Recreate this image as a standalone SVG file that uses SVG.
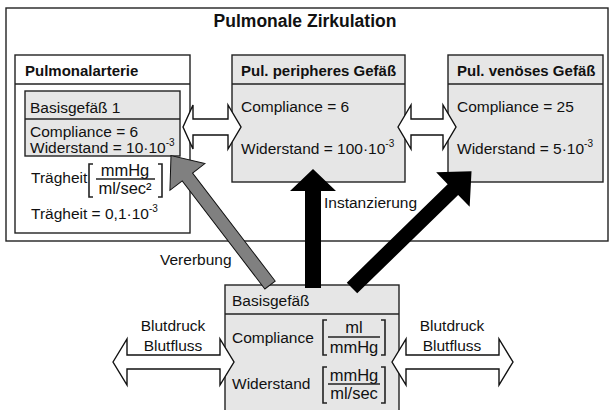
<svg xmlns="http://www.w3.org/2000/svg" width="611" height="410" viewBox="0 0 611 410">
<style>
text{font-family:"Liberation Sans",Arial,sans-serif;font-size:15.5px;fill:#111}
.b{font-weight:bold;font-size:15px}
.box{fill:#fff;stroke:#222;stroke-width:1.4}
.gbox{fill:#e6e6e6;stroke:#222;stroke-width:1.4}
.ln{stroke:#222;stroke-width:1.4;fill:none}
.br{stroke:#222;stroke-width:1.6;fill:none}
.dbl{fill:#fff;stroke:#111;stroke-width:1.4;stroke-linejoin:miter}
.sup{font-size:10px}
.m{text-anchor:middle}
.f{font-size:16.5px}
</style>
<g id="pulmonale-zirkulation">
<rect class="box" x="6" y="8" width="602" height="233" stroke-width="1.8"/>
<text class="b m" x="305" y="27" style="font-size:17.5px">Pulmonale Zirkulation</text>
</g>
<g id="pulmonalarterie">
<rect class="box" x="15" y="55" width="175" height="178"/>
<line class="ln" x1="15" y1="84" x2="190" y2="84"/>
<text class="b" x="25" y="76">Pulmonalarterie</text>
<text x="31" y="183">Trägheit</text>
<path class="br" d="M93,164 H89 V197 H93 M158,164 H162 V197 H158"/>
<text class="m f" x="125" y="176">mmHg</text>
<line class="ln" x1="96" y1="179" x2="155" y2="179"/>
<text class="m f" x="125" y="194">ml/sec²</text>
<text x="31" y="219">Trägheit = 0,1·10<tspan class="sup" dy="-7">-3</tspan></text>
</g>
<g id="basisgefaess-1">
<rect class="gbox" x="25" y="91" width="155" height="65"/>
<line class="ln" x1="25" y1="119" x2="180" y2="119"/>
<text x="30" y="113">Basisgefäß 1</text>
<text x="30" y="137">Compliance = 6</text>
<text x="30" y="153">Widerstand = 10·10<tspan class="sup" dy="-7">-3</tspan></text>
</g>
<g id="pul-peripheres-gefaess">
<rect class="gbox" x="232" y="55" width="173" height="127"/>
<line class="ln" x1="232" y1="84" x2="405" y2="84"/>
<text class="b" x="241" y="76">Pul. peripheres Gefäß</text>
<text x="241" y="112">Compliance = 6</text>
<text x="241" y="154">Widerstand = 100·10<tspan class="sup" dy="-7">-3</tspan></text>
</g>
<g id="pul-venoeses-gefaess">
<rect class="gbox" x="448" y="55" width="155" height="127"/>
<line class="ln" x1="448" y1="84" x2="603" y2="84"/>
<text class="b" x="457" y="76">Pul. venöses Gefäß</text>
<text x="457" y="112">Compliance = 25</text>
<text x="457" y="154">Widerstand = 5·10<tspan class="sup" dy="-7">-3</tspan></text>
</g>
<g id="basisgefaess">
<rect class="gbox" x="225" y="285" width="174" height="135"/>
<line class="ln" x1="225" y1="314" x2="399" y2="314"/>
<text x="232" y="306">Basisgefäß</text>
<text x="232" y="343">Compliance</text>
<path class="br" d="M327,320 H323 V355 H327 M381,320 H385 V355 H381"/>
<text class="m f" x="354" y="333">ml</text>
<line class="ln" x1="328" y1="337" x2="380" y2="337"/>
<text class="m f" x="354" y="353">mmHg</text>
<text x="232" y="389">Widerstand</text>
<path class="br" d="M327,367 H323 V403 H327 M381,367 H385 V403 H381"/>
<text class="m f" x="354" y="381">mmHg</text>
<line class="ln" x1="328" y1="384" x2="380" y2="384"/>
<text class="m f" x="354" y="399">ml/sec</text>
</g>
<g id="connectors">
<polygon class="dbl" points="183,127 193,105 193,119 228,119 228,105 241,127 228,149 228,135 193,135 193,149"/>
<polygon class="dbl" points="398,127 411,105 411,119 443,119 443,105 456,127 443,149 443,135 411,135 411,149"/>
<polygon class="dbl" points="113,362 127,339 127,355 220,355 220,339 234,362 220,385 220,369 127,369 127,385"/>
<polygon class="dbl" points="392,362 406,339 406,355 499,355 499,339 513,362 499,385 499,369 406,369 406,385"/>
<text class="m" x="173" y="331">Blutdruck</text>
<text class="m" x="173" y="351">Blutfluss</text>
<text class="m" x="452" y="331">Blutdruck</text>
<text class="m" x="452" y="351">Blutfluss</text>
<polygon fill="#808080" stroke="#111" stroke-width="1" transform="translate(270,285) rotate(-127.4)" points="0,-6.5 136,-6.5 136,-22 163,0 136,22 136,6.5 0,6.5"/>
<polygon fill="#000" points="313,169 336,191 321,191 321,288 305,288 305,191 290,191"/>
<polygon fill="#000" transform="translate(352,288) rotate(-44.3)" points="0,-7.5 141,-7.5 141,-24 167,0 141,24 141,7.5 0,7.5"/>
<text x="160" y="265">Vererbung</text>
<text x="324" y="208">Instanzierung</text>
</g>
</svg>
